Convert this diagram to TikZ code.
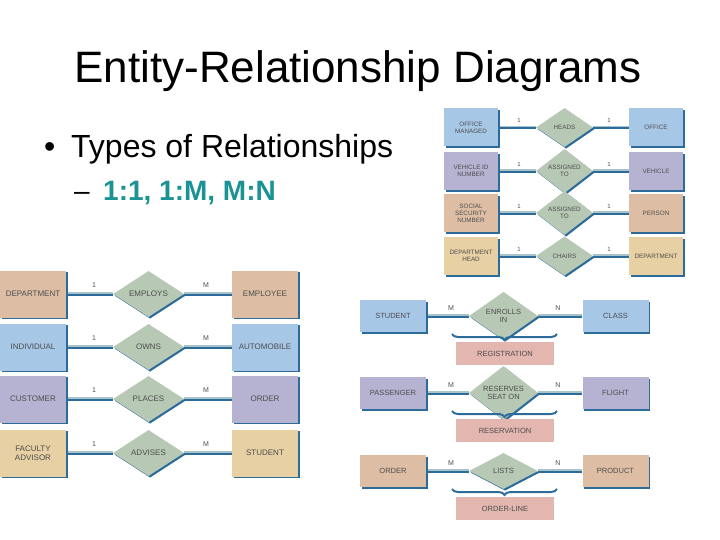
\documentclass[tikz,border=0pt]{standalone}
\usepackage{fontspec}
\setmainfont{Liberation Sans}
\usetikzlibrary{shapes.geometric,shadows,decorations.pathreplacing,backgrounds}
\definecolor{eblue}{HTML}{A7C7E7}
\definecolor{epurple}{HTML}{B6B2D2}
\definecolor{etanpink}{HTML}{DDBEA4}
\definecolor{etan}{HTML}{E7D0A3}
\definecolor{dia}{HTML}{B7C9B5}
\definecolor{assoc}{HTML}{E3B6AF}
\definecolor{dkb}{HTML}{2C6B9A}
\definecolor{lnlt}{HTML}{A8C4CA}
\definecolor{txt}{HTML}{4D4D4D}
\definecolor{teal}{HTML}{1B9294}
\newcommand\erline[3]{%
  \draw[draw=lnlt,line width=#1pt,transform canvas={yshift=#1*0.5pt}] (#2) -- (#3);
  \draw[draw=dkb,line width=#1pt,transform canvas={yshift=-#1*0.5pt}] (#2) -- (#3);}
\begin{document}
\begin{tikzpicture}[x=1pt,y=-1pt,
  shad/.style={drop shadow={shadow xshift=1.6pt,shadow yshift=-1.6pt,fill=dkb,opacity=1}},
  ent/.style={rectangle,fill=#1,inner sep=1pt,align=center,text=txt,shad},
  rel/.style={diamond,fill=dia,inner sep=0pt,align=center,text=txt,shad},
  entL/.style={ent=#1,minimum width=66pt,minimum height=47pt,font=\fontsize{8}{9}\selectfont},
  relL/.style={rel,minimum width=71pt,minimum height=46pt,font=\fontsize{8}{9}\selectfont},
  entT/.style={ent=#1,minimum width=54pt,minimum height=38pt,font=\fontsize{6.3}{7}\selectfont},
  relT/.style={rel,minimum width=57pt,minimum height=39pt,font=\fontsize{6.3}{7}\selectfont},
  entB/.style={ent=#1,minimum width=66pt,minimum height=32pt,font=\fontsize{7.5}{8}\selectfont},
  relB/.style={rel,minimum width=69pt,minimum height=36pt,font=\fontsize{7.5}{8}\selectfont},
  asc/.style={rectangle,fill=assoc,minimum width=98pt,minimum height=23pt,text=txt,font=\fontsize{7.5}{8}\selectfont},
  lbl/.style={text=txt,inner sep=0pt,font=\fontsize{7}{8}\selectfont},
  lblT/.style={text=txt,inner sep=0pt,font=\fontsize{6}{7}\selectfont},
  brc/.style={draw=dkb,line width=2pt,decorate,decoration={brace,mirror,amplitude=6pt}}]
\useasboundingbox (0,0) rectangle (720,540);

% text
\node[anchor=base,inner sep=0pt,font=\fontsize{44}{50}\selectfont] (title) at (358,83) {Entity-Relationship Diagrams};
\node[anchor=base west,inner sep=0pt,font=\fontsize{32}{36}\selectfont] (bul) at (44,158) {•};
\node[anchor=base west,inner sep=0pt,font=\fontsize{32}{36}\selectfont] (types) at (71,158) {Types of Relationships};
\node[anchor=base west,inner sep=0pt,font=\fontsize{28}{32}\selectfont] (dash) at (74,201) {–};
\node[anchor=base west,inner sep=0pt,text=teal,font=\fontsize{28}{32}\selectfont\bfseries] (kinds) at (103,201) {1:1, 1:M, M:N};

% left diagram 1:M
\foreach \y/\a/\r/\b/\c [count=\i] in {294/DEPARTMENT/EMPLOYS/EMPLOYEE/etanpink,
    347/INDIVIDUAL/OWNS/AUTOMOBILE/eblue,
    399/CUSTOMER/PLACES/ORDER/epurple,
    453/{FACULTY\\ADVISOR}/ADVISES/STUDENT/etan}{
  \node[entL=\c] (La\i) at (33,\y) {\a};
  \node[relL] (Lr\i) at (148.5,\y) {\r};
  \node[entL=\c] (Lb\i) at (265,\y) {\b};
  \node[lbl] (Lx\i) at (94,\y-9) {1};
  \node[lbl] (Ly\i) at (206,\y-9) {M};
  \begin{scope}[on background layer]
    \erline{2.4}{La\i.east}{Lr\i.west}
    \erline{2.4}{Lr\i.east}{Lb\i.west}
  \end{scope}
}

% top right 1:1
\foreach \y/\a/\r/\b/\c [count=\i] in {127.5/{OFFICE\\MANAGED}/HEADS/OFFICE/eblue,
    171/{VEHICLE ID\\NUMBER}/{ASSIGNED\\TO}/VEHICLE/epurple,
    213/{SOCIAL\\SECURITY\\NUMBER}/{ASSIGNED\\TO}/PERSON/etanpink,
    256/{DEPARTMENT\\HEAD}/CHAIRS/DEPARTMENT/etan}{
  \node[entT=\c] (Ta\i) at (471,\y) {\a};
  \node[relT] (Tr\i) at (564.5,\y) {\r};
  \node[entT=\c] (Tb\i) at (656,\y) {\b};
  \node[lblT] (Tx\i) at (519,\y-7) {1};
  \node[lblT] (Ty\i) at (609,\y-7) {1};
  \begin{scope}[on background layer]
    \erline{1.8}{Ta\i.east}{Tr\i.west}
    \erline{1.8}{Tr\i.east}{Tb\i.west}
  \end{scope}
}

% bottom right M:N
\foreach \y/\a/\r/\b/\c/\s [count=\i] in {316/STUDENT/{ENROLLS\\IN}/CLASS/eblue/REGISTRATION,
    393/PASSENGER/{RESERVES\\SEAT ON}/FLIGHT/epurple/RESERVATION,
    471/ORDER/LISTS/PRODUCT/etanpink/ORDER-LINE}{
  \node[entB=\c] (Ba\i) at (393,\y) {\a};
  \node[relB] (Br\i) at (503.5,\y) {\r};
  \node[entB=\c] (Bb\i) at (615.5,\y) {\b};
  \node[lbl] (Bx\i) at (451,\y-8) {M};
  \node[lbl] (By\i) at (558,\y-8) {N};
  \node[asc] (Bs\i) at (505,\y+37.5) {\s};
  \coordinate (Bc\i) at (452,\y+18);
  \coordinate (Bd\i) at (557,\y+18);
  \draw[brc] (Bc\i) -- (Bd\i);
  \begin{scope}[on background layer]
    \erline{1.8}{Ba\i.east}{Br\i.west}
    \erline{1.8}{Br\i.east}{Bb\i.west}
  \end{scope}
}
\end{tikzpicture}
\end{document}
